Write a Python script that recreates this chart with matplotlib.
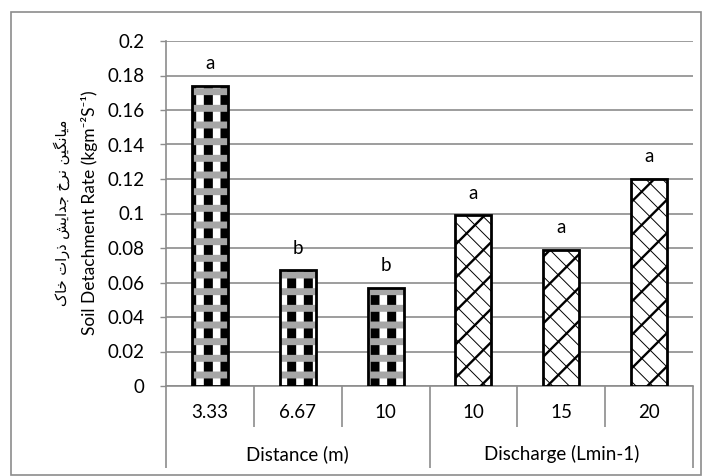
import matplotlib
matplotlib.use('Agg')
import matplotlib.pyplot as plt
import matplotlib.transforms as mtransforms
from matplotlib.patches import Rectangle

# chart data
cat_labels = ['3.33', '6.67', '10', '10', '15', '20']
group_labels = ['Distance (m)', 'Discharge (Lmin-1)']
group_sizes = [3, 3]
rates = [0.174, 0.067, 0.057, 0.099, 0.079, 0.120]
letters = ['a', 'b', 'b', 'a', 'a', 'a']
yticks = [0, 0.02, 0.04, 0.06, 0.08, 0.1, 0.12, 0.14, 0.16, 0.18, 0.2]
ytick_labels = ['0', '0.02', '0.04', '0.06', '0.08', '0.1', '0.12', '0.14', '0.16', '0.18', '0.2']

# persian label, presentation forms in logical order (reversed later for display)
fa_words = ['\uFEE3\uFBFF\uFE8E\uFEE7\uFB95\uFBFF\uFEE6',
            '\uFEE7\uFEAE\uFEA5',
            '\uFE9F\uFEAA\uFE8D\uFBFE\uFEB6',
            '\uFEAB\uFEAD\uFE8D\uFE95',
            '\uFEA7\uFE8E\uFB8E']
fa_label = ' '.join(fa_words)[::-1]

plt.rcParams['font.family'] = ['Lato', 'DejaVu Sans']
plt.rcParams['hatch.linewidth'] = 6.0
grid_col = '#8c8c8c'
fs = 13.5
W, H = 712, 476

fig = plt.figure(figsize=(W / 100, H / 100), dpi=100)
ax = fig.add_axes([166 / W, 1 - 386 / H, 527 / W, 345 / H])

x = list(range(len(rates)))
bw = 0.41

def set_hlw(bars, lw):
    for b in bars:
        if hasattr(b, 'set_hatch_linewidth'):
            b.set_hatch_linewidth(lw)

# distance group: black stripes + gray bands
n1 = group_sizes[0]
b1 = ax.bar(x[:n1], rates[:n1], bw, color='white', edgecolor='black', hatch='|', linewidth=0, zorder=3)
set_hlw(b1, 6.5)
b2 = ax.bar(x[:n1], rates[:n1], bw, color='none', edgecolor='#a6a6a6', hatch='-', linewidth=0, zorder=3)
set_hlw(b2, 5.0)
# discharge group: diagonal brick-like pattern
b3 = ax.bar(x[n1:], rates[n1:], bw, color='white', edgecolor='black', hatch='/', linewidth=0, zorder=3)
set_hlw(b3, 1.7)
b4 = ax.bar(x[n1:], rates[n1:], bw, color='none', edgecolor='black', hatch='\\\\', linewidth=0, zorder=3)
set_hlw(b4, 0.7)
# outlines
ax.bar(x, rates, bw, color='none', edgecolor='black', linewidth=2.0, zorder=4)

for xi, v, t in zip(x, rates, letters):
    ax.annotate(t, (xi, v), xytext=(0, 16), textcoords='offset points',
                ha='center', va='center', fontsize=fs)

ax.set_xlim(-0.5, len(rates) - 0.5)
ax.set_ylim(0, 0.2)
ax.set_yticks(yticks)
ax.set_yticklabels(ytick_labels)
ax.yaxis.grid(True, color=grid_col, linewidth=1.2, zorder=0)
ax.set_axisbelow(True)
ax.tick_params(axis='y', length=4.5, width=1, color=grid_col, pad=11, labelsize=fs)
ax.set_xticks([])
for s in ['top', 'right']:
    ax.spines[s].set_visible(False)
for s in ['left', 'bottom']:
    ax.spines[s].set_color(grid_col)
    ax.spines[s].set_linewidth(1.2)

# multi-level category axis
trans = mtransforms.blended_transform_factory(ax.transData, ax.transAxes)
bounds = [i - 0.5 for i in range(len(rates) + 1)]
group_edges = [-0.5]
for g in group_sizes:
    group_edges.append(group_edges[-1] + g)
inner = [b for b in bounds if b not in group_edges]
ax.vlines(inner, -0.119, 0, transform=trans, colors=grid_col, linewidth=1.2, clip_on=False)
ax.vlines(group_edges, -0.238, 0, transform=trans, colors=grid_col, linewidth=1.2, clip_on=False)
for xi, t in zip(x, cat_labels):
    ax.text(xi, -0.078, t, transform=trans, ha='center', va='center', fontsize=fs)
start = 0
for g, t in zip(group_sizes, group_labels):
    ax.text(start + (g - 1) / 2, -0.197, t, transform=trans, ha='center', va='center', fontsize=fs)
    start += g

# y axis title, two lines
fig.text(90 / W, 1 - 213 / H, 'Soil Detachment Rate (kgm\u207b\u00b2S\u207b\u00b9)', rotation=90,
         ha='center', va='center', fontsize=12.5)
fig.text(62 / W, 1 - 213 / H, fa_label, rotation=90, ha='center', va='center',
         fontsize=10.5, family=['DejaVu Sans'])

# chart border
fig.patches.append(Rectangle((11 / W, 1 - 475 / H), 690 / W, 463 / H, transform=fig.transFigure,
                             fill=False, edgecolor=grid_col, linewidth=1.2))

fig.savefig('out.png', dpi=100)
